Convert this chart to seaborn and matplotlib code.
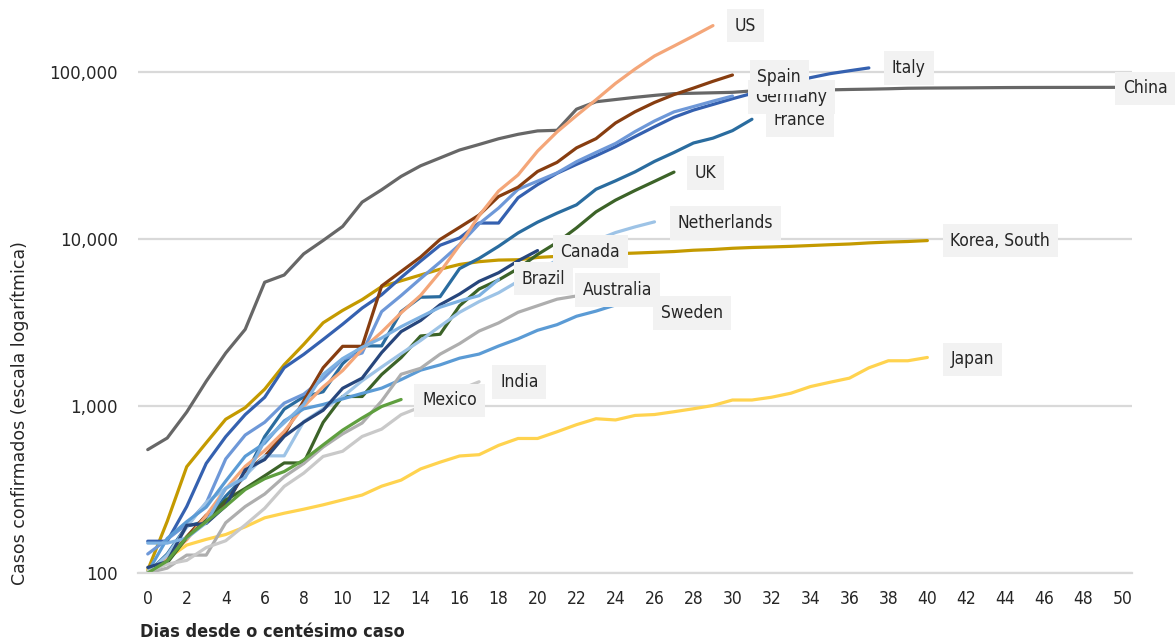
import numpy as np
import pandas as pd
import matplotlib
matplotlib.use("Agg")
import matplotlib.pyplot as plt
import seaborn as sns
from matplotlib.ticker import FixedLocator, FuncFormatter, NullLocator

# casos confirmados acumulados, dia 0 = primeiro dia com ~100 casos
china = [548, 643, 920, 1406, 2075, 2877, 5509, 6087, 8141, 9802, 11891, 16630, 19716,
         23707, 27440, 30587, 34110, 36814, 39829, 42354, 44386, 44759, 59895, 66358,
         68413, 70513, 72434, 74211, 74619, 75077, 75550, 77001, 77022, 77241, 77754,
         78166, 78600, 78928, 79356, 79932, 80136, 80261, 80386, 80537, 80690, 80770,
         80823, 80860, 80887, 80921, 80932]
korea = [104, 204, 433, 602, 833, 977, 1261, 1766, 2337, 3150, 3736, 4335, 5186, 5621,
         6088, 6593, 7041, 7314, 7478, 7513, 7755, 7869, 7979, 8086, 8162, 8236, 8320,
         8413, 8565, 8652, 8799, 8897, 8961, 9037, 9137, 9241, 9332, 9478, 9583, 9661, 9786]
japan = [105, 122, 147, 159, 170, 189, 214, 228, 241, 256, 274, 293, 331, 360, 420, 461,
         502, 511, 581, 639, 639, 701, 773, 839, 825, 878, 889, 924, 963, 1007, 1086,
         1086, 1128, 1193, 1307, 1387, 1468, 1693, 1866, 1866, 1953]
italy = [155, 155, 250, 453, 655, 888, 1128, 1694, 2036, 2502, 3089, 3858, 4636, 5883,
         7375, 9172, 10149, 12462, 12462, 17660, 21157, 24747, 27980, 31506, 35713, 41035,
         47021, 53578, 59138, 63927, 69176, 74386, 80589, 86498, 92472, 97689, 101739, 105792]
france = [100, 130, 191, 204, 288, 380, 656, 957, 1134, 1217, 1792, 2290, 2290, 3672, 4480,
          4513, 6650, 7652, 9043, 10871, 12612, 14282, 16018, 19856, 22304, 25233, 29155,
          32964, 37575, 40174, 44550, 52128]
germany = [130, 159, 196, 262, 482, 670, 799, 1040, 1176, 1457, 1908, 2078, 3675, 4585,
           5795, 7272, 9257, 12327, 15320, 19848, 22213, 24873, 29056, 32986, 37323, 43938,
           50871, 57695, 62095, 66885, 71808]
spain = [100, 120, 165, 222, 259, 400, 500, 673, 1073, 1695, 2277, 2277, 5232, 6391, 7798,
         9942, 11748, 13910, 17963, 20410, 25374, 28768, 35136, 39885, 49515, 57786, 65719,
         73235, 80110, 87956, 95923]
us = [100, 124, 158, 221, 319, 435, 541, 704, 994, 1301, 1630, 2183, 2770, 3613, 4596, 6344,
      9197, 13779, 19367, 24192, 33592, 43781, 54856, 68211, 85435, 104126, 124686, 143055,
      164359, 189618]
uk = [100, 115, 163, 206, 273, 321, 382, 456, 456, 798, 1140, 1140, 1543, 1950, 2626, 2689,
      3983, 5018, 5683, 6650, 8077, 9529, 11658, 14543, 17089, 19522, 22141, 25150]
netherlands = [100, 128, 188, 265, 321, 382, 503, 503, 806, 962, 1138, 1416, 1711, 2058,
               2467, 3003, 3640, 4217, 4764, 5580, 6438, 7468, 8647, 9819, 10930, 11817, 12667]
sweden = [101, 161, 203, 248, 355, 500, 599, 814, 961, 1022, 1103, 1190, 1279, 1439, 1639,
          1763, 1934, 2046, 2286, 2526, 2840, 3069, 3447, 3700, 4028, 4435]
australia = [100, 107, 128, 128, 200, 250, 297, 377, 452, 568, 681, 791, 1071, 1549, 1682,
             2044, 2364, 2810, 3143, 3640, 3984, 4361, 4559]
canada = [108, 117, 193, 198, 252, 415, 478, 657, 800, 943, 1277, 1469, 2088, 2790, 3251,
          4042, 4682, 5576, 6280, 7398, 8527]
brazil = [151, 151, 162, 200, 321, 372, 621, 793, 1021, 1546, 1924, 2247, 2554, 2985, 3417,
          3904, 4256, 4579, 5717]
india = [102, 113, 119, 142, 156, 194, 244, 330, 396, 499, 536, 657, 727, 887, 987, 1024,
         1251, 1397]
mexico = [100, 118, 164, 203, 251, 316, 367, 405, 475, 585, 717, 848, 993, 1094]

series = {
    "China": china, "Korea, South": korea, "Japan": japan, "Italy": italy,
    "France": france, "Germany": germany, "Spain": spain, "US": us, "UK": uk,
    "Netherlands": netherlands, "Sweden": sweden, "Australia": australia,
    "Canada": canada, "Brazil": brazil, "India": india, "Mexico": mexico,
}
palette = {
    "China": "#676767", "Korea, South": "#C49A00", "Japan": "#FFD34F", "Italy": "#3561B0",
    "France": "#2A6C9F", "Germany": "#6E98D8", "Spain": "#873D10", "US": "#F4A679",
    "UK": "#3C6328", "Netherlands": "#9DC3E6", "Sweden": "#5B9BD5", "Australia": "#AEAEAE",
    "Canada": "#27467C", "Brazil": "#7DB1E2", "India": "#C9C9C9", "Mexico": "#5F9F3F",
}
# deslocamento do rótulo em relação ao fim da linha (pixels)
label_offset = {
    "China": (1, -1), "Korea, South": (23, 0), "Japan": (23, -2), "Italy": (23, 0),
    "France": (22, -1), "Germany": (23, -1), "Spain": (25, -2), "US": (22, 0),
    "UK": (21, -1), "Netherlands": (23, -1), "Sweden": (26, -15), "Australia": (6, 6),
    "Canada": (23, -1), "Brazil": (23, 1), "India": (21, 0), "Mexico": (21, -1),
}

rows = []
for name, vals in series.items():
    for day, v in enumerate(vals):
        rows.append((name, day, v))
df = pd.DataFrame(rows, columns=["pais", "dia", "casos"])

sns.set_style("white")

fig = plt.figure(figsize=(11.75, 6.42), dpi=100)
ax = fig.add_axes([138 / 1175, 69 / 642, 994 / 1175, 573 / 642])

sns.lineplot(data=df, x="dia", y="casos", hue="pais", hue_order=list(series.keys()),
             palette=palette, linewidth=2.3, legend=False, estimator=None, sort=False, ax=ax)

ax.set_yscale("log")
ax.set_ylim(100, 100 * 10 ** (573 / 167))
ax.set_xlim(-0.5, 50.5)
ax.yaxis.set_major_locator(FixedLocator([100, 1000, 10000, 100000]))
ax.yaxis.set_minor_locator(NullLocator())
ax.yaxis.set_major_formatter(FuncFormatter(lambda v, p: f"{int(v):,}"))
ax.set_xticks(range(0, 51, 2))
ax.grid(False)
ax.yaxis.grid(True, color="#D9D9D9", linewidth=1.6)
for s in ["top", "right", "left"]:
    ax.spines[s].set_visible(False)
ax.spines["bottom"].set_color("#D9D9D9")
ax.spines["bottom"].set_linewidth(1.6)
ax.tick_params(axis="both", length=0)
ax.tick_params(axis="y", pad=14.4, labelsize=12, labelcolor="#262626")
ax.tick_params(axis="x", pad=12, labelsize=12.5, labelcolor="#262626")
for t in ax.get_xticklabels():
    t.set_fontstretch("condensed")
ax.set_xlabel("")
ax.set_ylabel("")

for name, vals in series.items():
    ax.annotate(name, xy=(len(vals) - 1, vals[-1]), xytext=label_offset[name],
                textcoords="offset pixels", ha="left", va="center", fontsize=12.5,
                color="#262626", fontstretch="condensed",
                bbox=dict(boxstyle="square,pad=0.45", fc="#F2F2F2", ec="none"),
                annotation_clip=False)

fig.text(20 / 1175, 1 - 413 / 642, "Casos confirmados (escala logarítmica)", rotation=90,
         ha="center", va="center", fontsize=12.5, color="#262626")
fig.text(140 / 1175, 1 - 632 / 642, "Dias desde o centésimo caso", ha="left", va="center",
         fontsize=13, fontweight="bold", fontstretch="condensed", color="#262626")

fig.savefig("out.png", dpi=100)
plt.close(fig)
